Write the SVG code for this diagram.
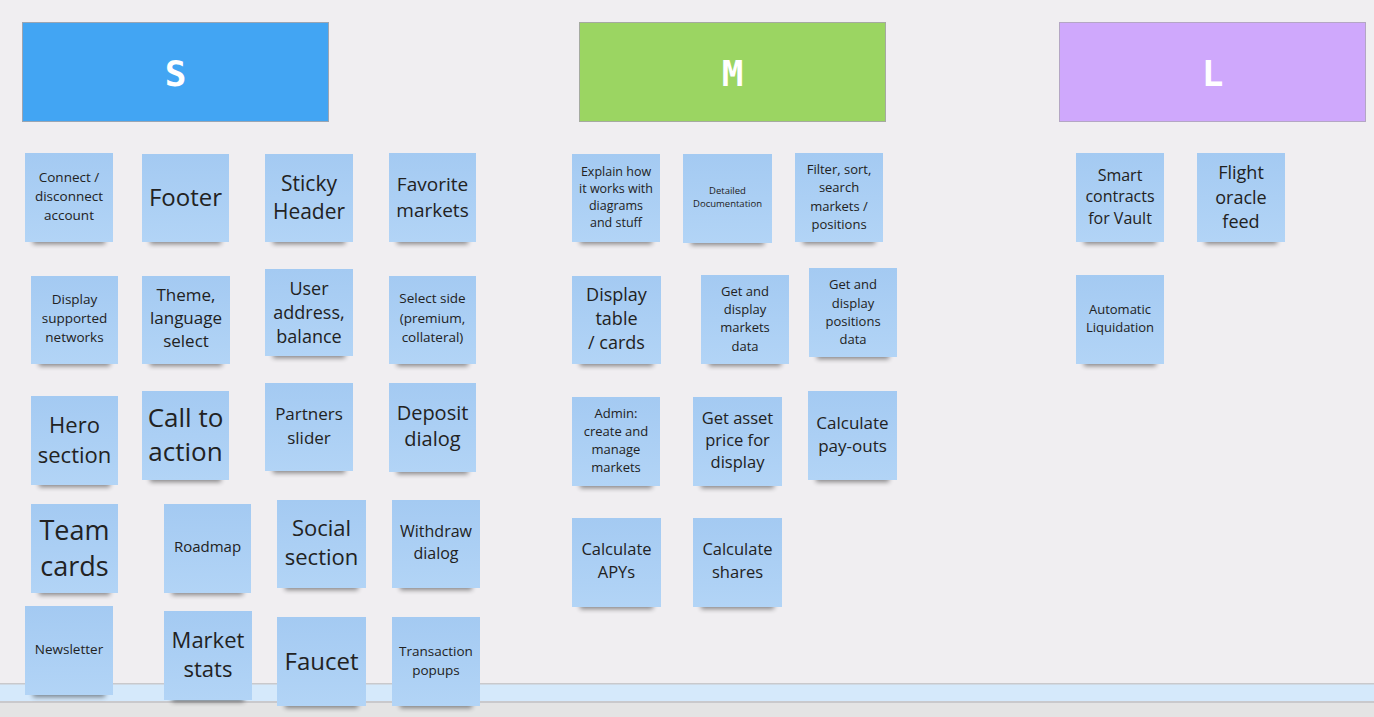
<svg xmlns="http://www.w3.org/2000/svg" width="1374" height="717" viewBox="0 0 1374 717">
<defs>
<linearGradient id="ng" x1="0" y1="0" x2="0" y2="1">
<stop offset="0" stop-color="#a4caf2"/>
<stop offset="1" stop-color="#b2d4f6"/>
</linearGradient>
<filter id="blur" x="-20%" y="-100%" width="140%" height="300%">
<feGaussianBlur stdDeviation="2.5"/>
</filter>
<style>
.note{fill:url(#ng);}
.sh{fill:#000;opacity:0.45;filter:url(#blur);}
.t{font-family:"Open Sans","Noto Sans",sans-serif;fill:#222;text-anchor:middle;}
.hd{stroke-width:1;}
.ht{font-family:"DejaVu Sans Mono",monospace;font-weight:bold;font-size:36px;fill:#fff;text-anchor:middle;}
</style>
</defs>
<rect x="0" y="0" width="1374" height="717" fill="#f0eef1"/>
<g id="bottom-bar">
<rect x="0" y="683" width="1374" height="20" fill="#c9c9cc"/>
<rect x="0" y="684.5" width="1374" height="16.5" fill="#d5e9fb"/>
<rect x="0" y="703" width="1374" height="14" fill="#e4e4e4"/>
</g>
<g id="headers">
<g id="h-s"><rect class="hd" x="22.5" y="22.5" width="306" height="99" fill="#42a5f3" stroke="#9aa5b3"/><text class="ht" x="175.5" y="86">S</text></g>
<g id="h-m"><rect class="hd" x="579.5" y="22.5" width="306" height="99" fill="#9bd562" stroke="#a5aaa0"/><text class="ht" x="732.5" y="86">M</text></g>
<g id="h-l"><rect class="hd" x="1059.5" y="22.5" width="306" height="99" fill="#cfa8fc" stroke="#b4a6c4"/><text class="ht" x="1212.5" y="86">L</text></g>
</g>
<g id="connectors"/>

<g id="n-connect"><rect class="sh" x="33" y="234" width="72" height="10"/><rect class="note" x="25" y="153" width="88" height="89"/><text class="t" font-size="13.5"><tspan x="69" y="182">Connect /</tspan><tspan x="69" y="201">disconnect</tspan><tspan x="69" y="220">account</tspan></text></g>
<g id="n-footer"><rect class="sh" x="150" y="234" width="71" height="10"/><rect class="note" x="142" y="154" width="87" height="88"/><text class="t" font-size="24"><tspan x="185.5" y="206">Footer</tspan></text></g>
<g id="n-sticky"><rect class="sh" x="273" y="234" width="72" height="10"/><rect class="note" x="265" y="154" width="88" height="88"/><text class="t" font-size="21"><tspan x="309" y="190.5">Sticky</tspan><tspan x="309" y="218.5">Header</tspan></text></g>
<g id="n-favorite"><rect class="sh" x="397" y="234" width="71" height="10"/><rect class="note" x="389" y="153" width="87" height="89"/><text class="t" font-size="19"><tspan x="432.5" y="191">Favorite</tspan><tspan x="432.5" y="217">markets</tspan></text></g>

<g id="n-networks"><rect class="sh" x="39" y="356" width="71" height="10"/><rect class="note" x="31" y="276" width="87" height="88"/><text class="t" font-size="13.5"><tspan x="74.5" y="304">Display</tspan><tspan x="74.5" y="323">supported</tspan><tspan x="74.5" y="342">networks</tspan></text></g>
<g id="n-theme"><rect class="sh" x="150" y="356" width="72" height="10"/><rect class="note" x="142" y="276" width="88" height="88"/><text class="t" font-size="17"><tspan x="186" y="301">Theme,</tspan><tspan x="186" y="324">language</tspan><tspan x="186" y="347">select</tspan></text></g>
<g id="n-user"><rect class="sh" x="273" y="348" width="72" height="10"/><rect class="note" x="265" y="269" width="88" height="87"/><text class="t" font-size="18"><tspan x="309" y="294.5">User</tspan><tspan x="309" y="318.5">address,</tspan><tspan x="309" y="342.5">balance</tspan></text></g>
<g id="n-side"><rect class="sh" x="397" y="356" width="71" height="10"/><rect class="note" x="389" y="276" width="87" height="88"/><text class="t" font-size="13.5"><tspan x="432.5" y="303">Select side</tspan><tspan x="432.5" y="323">(premium,</tspan><tspan x="432.5" y="342">collateral)</tspan></text></g>

<g id="n-hero"><rect class="sh" x="39" y="477" width="71" height="10"/><rect class="note" x="31" y="396" width="87" height="89"/><text class="t" font-size="22"><tspan x="74.5" y="433">Hero</tspan><tspan x="74.5" y="463">section</tspan></text></g>
<g id="n-cta"><rect class="sh" x="150" y="472" width="71" height="10"/><rect class="note" x="142" y="391" width="87" height="89"/><text class="t" font-size="26"><tspan x="185.5" y="427">Call to</tspan><tspan x="185.5" y="461">action</tspan></text></g>
<g id="n-partners"><rect class="sh" x="273" y="463" width="72" height="10"/><rect class="note" x="265" y="383" width="88" height="88"/><text class="t" font-size="17"><tspan x="309" y="420">Partners</tspan><tspan x="309" y="444">slider</tspan></text></g>
<g id="n-deposit"><rect class="sh" x="397" y="464" width="71" height="10"/><rect class="note" x="389" y="383" width="87" height="89"/><text class="t" font-size="20"><tspan x="432.5" y="420">Deposit</tspan><tspan x="432.5" y="446">dialog</tspan></text></g>

<g id="n-team"><rect class="sh" x="39" y="585" width="71" height="10"/><rect class="note" x="31" y="504" width="87" height="89"/><text class="t" font-size="27"><tspan x="74.5" y="540">Team</tspan><tspan x="74.5" y="576">cards</tspan></text></g>
<g id="n-roadmap"><rect class="sh" x="172" y="585" width="71" height="10"/><rect class="note" x="164" y="504" width="87" height="89"/><text class="t" font-size="15"><tspan x="207.5" y="552">Roadmap</tspan></text></g>
<g id="n-social"><rect class="sh" x="285" y="580" width="73" height="10"/><rect class="note" x="277" y="500" width="89" height="88"/><text class="t" font-size="22"><tspan x="321.5" y="536">Social</tspan><tspan x="321.5" y="565">section</tspan></text></g>
<g id="n-withdraw"><rect class="sh" x="400" y="580" width="72" height="10"/><rect class="note" x="392" y="500" width="88" height="88"/><text class="t" font-size="16"><tspan x="436" y="537">Withdraw</tspan><tspan x="436" y="559">dialog</tspan></text></g>

<g id="n-newsletter"><rect class="sh" x="33" y="687" width="72" height="10"/><rect class="note" x="25" y="606" width="88" height="89"/><text class="t" font-size="13.5"><tspan x="69" y="654">Newsletter</tspan></text></g>
<g id="n-marketstats"><rect class="sh" x="172" y="692" width="72" height="10"/><rect class="note" x="164" y="611" width="88" height="89"/><text class="t" font-size="22"><tspan x="208" y="648">Market</tspan><tspan x="208" y="677">stats</tspan></text></g>
<g id="n-faucet"><rect class="sh" x="285" y="698" width="73" height="10"/><rect class="note" x="277" y="617" width="89" height="89"/><text class="t" font-size="24"><tspan x="321.5" y="670">Faucet</tspan></text></g>
<g id="n-txpopups"><rect class="sh" x="400" y="698" width="72" height="10"/><rect class="note" x="392" y="617" width="88" height="89"/><text class="t" font-size="13.5"><tspan x="436" y="656">Transaction</tspan><tspan x="436" y="675">popups</tspan></text></g>

<g id="n-explain"><rect class="sh" x="580" y="234" width="72" height="10"/><rect class="note" x="572" y="154" width="88" height="88"/><text class="t" font-size="12.5"><tspan x="616" y="175.5">Explain how</tspan><tspan x="616" y="192.5">it works with</tspan><tspan x="616" y="209.5">diagrams</tspan><tspan x="616" y="226.5">and stuff</tspan></text></g>
<g id="n-docs"><rect class="sh" x="691" y="235" width="73" height="10"/><rect class="note" x="683" y="154" width="89" height="89"/><text class="t" font-size="9.5"><tspan x="727.5" y="193.5">Detailed</tspan><tspan x="727.5" y="206.5">Documentation</tspan></text></g>
<g id="n-filter"><rect class="sh" x="803" y="234" width="72" height="10"/><rect class="note" x="795" y="153" width="88" height="89"/><text class="t" font-size="13"><tspan x="839" y="173.5">Filter, sort,</tspan><tspan x="839" y="191.5">search</tspan><tspan x="839" y="210.5">markets /</tspan><tspan x="839" y="228.5">positions</tspan></text></g>

<g id="n-table"><rect class="sh" x="580" y="356" width="73" height="10"/><rect class="note" x="572" y="276" width="89" height="88"/><text class="t" font-size="18"><tspan x="616.5" y="300.5">Display</tspan><tspan x="616.5" y="324.5">table</tspan><tspan x="616.5" y="348.5">/ cards</tspan></text></g>
<g id="n-getmarkets"><rect class="sh" x="709" y="356" width="72" height="10"/><rect class="note" x="701" y="275" width="88" height="89"/><text class="t" font-size="13"><tspan x="745" y="295.5">Get and</tspan><tspan x="745" y="313.5">display</tspan><tspan x="745" y="331.5">markets</tspan><tspan x="745" y="350.5">data</tspan></text></g>
<g id="n-getpositions"><rect class="sh" x="817" y="349" width="72" height="10"/><rect class="note" x="809" y="268" width="88" height="89"/><text class="t" font-size="13"><tspan x="853" y="288.5">Get and</tspan><tspan x="853" y="307.5">display</tspan><tspan x="853" y="325.5">positions</tspan><tspan x="853" y="343.5">data</tspan></text></g>

<g id="n-admin"><rect class="sh" x="580" y="478" width="72" height="10"/><rect class="note" x="572" y="397" width="88" height="89"/><text class="t" font-size="13"><tspan x="616" y="417.5">Admin:</tspan><tspan x="616" y="435.5">create and</tspan><tspan x="616" y="453.5">manage</tspan><tspan x="616" y="471.5">markets</tspan></text></g>
<g id="n-asset"><rect class="sh" x="701" y="478" width="73" height="10"/><rect class="note" x="693" y="397" width="89" height="89"/><text class="t" font-size="16.5"><tspan x="737.5" y="424">Get asset</tspan><tspan x="737.5" y="446">price for</tspan><tspan x="737.5" y="468">display</tspan></text></g>
<g id="n-payouts"><rect class="sh" x="816" y="472" width="73" height="10"/><rect class="note" x="808" y="391" width="89" height="89"/><text class="t" font-size="17"><tspan x="852.5" y="429">Calculate</tspan><tspan x="852.5" y="452">pay-outs</tspan></text></g>

<g id="n-apys"><rect class="sh" x="580" y="599" width="73" height="10"/><rect class="note" x="572" y="518" width="89" height="89"/><text class="t" font-size="16.5"><tspan x="616.5" y="555">Calculate</tspan><tspan x="616.5" y="578">APYs</tspan></text></g>
<g id="n-shares"><rect class="sh" x="701" y="599" width="73" height="10"/><rect class="note" x="693" y="518" width="89" height="89"/><text class="t" font-size="16.5"><tspan x="737.5" y="555">Calculate</tspan><tspan x="737.5" y="578">shares</tspan></text></g>

<g id="n-smart"><rect class="sh" x="1084" y="234" width="72" height="10"/><rect class="note" x="1076" y="153" width="88" height="89"/><text class="t" font-size="16"><tspan x="1120" y="181">Smart</tspan><tspan x="1120" y="202">contracts</tspan><tspan x="1120" y="224">for Vault</tspan></text></g>
<g id="n-flight"><rect class="sh" x="1205" y="234" width="72" height="10"/><rect class="note" x="1197" y="153" width="88" height="89"/><text class="t" font-size="18"><tspan x="1241" y="178.5">Flight</tspan><tspan x="1241" y="203.5">oracle</tspan><tspan x="1241" y="227.5">feed</tspan></text></g>
<g id="n-liquidation"><rect class="sh" x="1084" y="356" width="72" height="10"/><rect class="note" x="1076" y="275" width="88" height="89"/><text class="t" font-size="13"><tspan x="1120" y="313.5">Automatic</tspan><tspan x="1120" y="331.5">Liquidation</tspan></text></g>
</svg>
